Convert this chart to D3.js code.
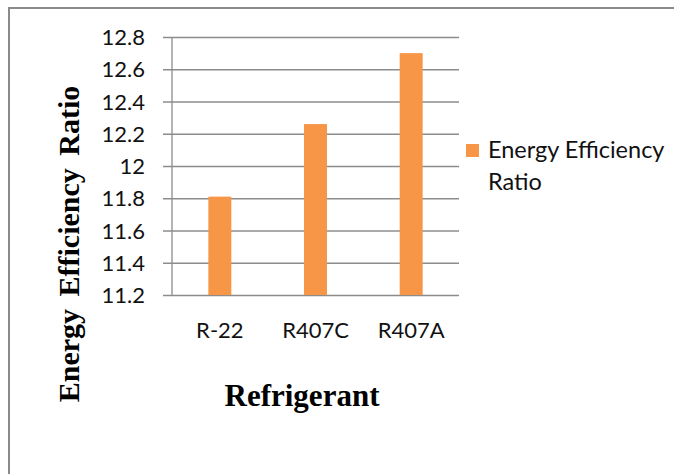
<!DOCTYPE html>
<html>
<head>
<meta charset="utf-8">
<script src="https://cdn.jsdelivr.net/npm/d3@7"></script>
<style>
  html, body { margin: 0; padding: 0; background: #fff; }
  svg { display: block; }
</style>
</head>
<body>
<svg id="chart" width="674" height="474"></svg>
<script>
// Refrigerant comparison: energy efficiency ratio per refrigerant
const categories = ["R-22", "R407C", "R407A"];
const eerValues = [11.81, 12.26, 12.70];
const yTicks = [11.2, 11.4, 11.6, 11.8, 12.0, 12.2, 12.4, 12.6, 12.8];
const yTickLabels = ["11.2", "11.4", "11.6", "11.8", "12", "12.2", "12.4", "12.6", "12.8"];
const seriesName = ["Energy Efficiency", "Ratio"];

const svg = d3.select("#chart");
const barColor = "#F79646";
const gridColor = "#8c8c8c";
const textColor = "#111";
const sansFont = "Lato, 'Open Sans', sans-serif";
const serifFont = "'Liberation Serif', 'DejaVu Serif', serif";

// frame around the chart object
svg.append("path")
  .attr("d", "M9,474 V8 H674")
  .attr("fill", "none")
  .attr("stroke", "#8a8a8a")
  .attr("stroke-width", 2);

const plot = { left: 172, right: 459, top: 37, bottom: 295 };

const y = d3.scaleLinear().domain([11.2, 12.8]).range([plot.bottom, plot.top]);
const x = d3.scaleBand().domain(categories)
  .range([plot.left, plot.right])
  .paddingInner(0.76).paddingOuter(0.38);

// horizontal gridlines with outer tick marks and labels
const yAxis = d3.axisLeft(y)
  .tickValues(yTicks)
  .tickSize(-(plot.right - plot.left))
  .tickPadding(0)
  .tickFormat((d, i) => yTickLabels[i]);

const gy = svg.append("g")
  .attr("transform", `translate(${plot.left},0)`)
  .call(yAxis);
gy.select(".domain").remove();
gy.selectAll(".tick line")
  .attr("x1", -9)
  .attr("stroke", gridColor)
  .attr("stroke-width", 1.3);
gy.selectAll(".tick text")
  .attr("x", -27)
  .attr("dy", "0.35em")
  .attr("fill", textColor)
  .style("font-family", sansFont)
  .style("font-size", "22px");

// vertical axis line
svg.append("line")
  .attr("x1", plot.left).attr("x2", plot.left)
  .attr("y1", y(12.8)).attr("y2", y(11.2))
  .attr("stroke", gridColor)
  .attr("stroke-width", 1.3);

// bars
svg.append("g").selectAll("rect")
  .data(categories)
  .join("rect")
  .attr("x", d => x(d))
  .attr("width", x.bandwidth())
  .attr("y", (d, i) => y(eerValues[i]))
  .attr("height", (d, i) => y(11.2) - y(eerValues[i]))
  .attr("fill", barColor);

// category labels
const xAxis = d3.axisBottom(x).tickSize(0).tickPadding(0);
const gx = svg.append("g")
  .attr("transform", `translate(0,${plot.bottom})`)
  .call(xAxis);
gx.select(".domain").remove();
gx.selectAll(".tick text")
  .attr("y", 43)
  .attr("dy", 0)
  .attr("fill", textColor)
  .style("font-family", sansFont)
  .style("font-size", "22px");

// axis titles
svg.append("text")
  .attr("x", 302)
  .attr("y", 406)
  .attr("text-anchor", "middle")
  .style("font-family", serifFont)
  .style("font-weight", "bold")
  .style("font-size", "31px")
  .attr("fill", "#000")
  .text("Refrigerant");

svg.append("text")
  .attr("transform", "translate(79,244) rotate(-90)")
  .attr("text-anchor", "middle")
  .style("font-family", serifFont)
  .style("font-weight", "bold")
  .style("font-size", "30px")
  .style("word-spacing", "5px")
  .attr("fill", "#000")
  .text("Energy Efficiency Ratio");

// legend
const legend = svg.append("g");
legend.append("rect")
  .attr("x", 466).attr("y", 144)
  .attr("width", 13).attr("height", 13)
  .attr("fill", barColor);
legend.append("text")
  .attr("x", 488).attr("y", 158)
  .style("font-family", sansFont)
  .style("font-size", "23.5px")
  .attr("fill", textColor)
  .selectAll("tspan")
  .data(seriesName)
  .join("tspan")
  .attr("x", 488)
  .attr("dy", (d, i) => i === 0 ? 0 : 32)
  .text(d => d);
</script>
</body>
</html>
